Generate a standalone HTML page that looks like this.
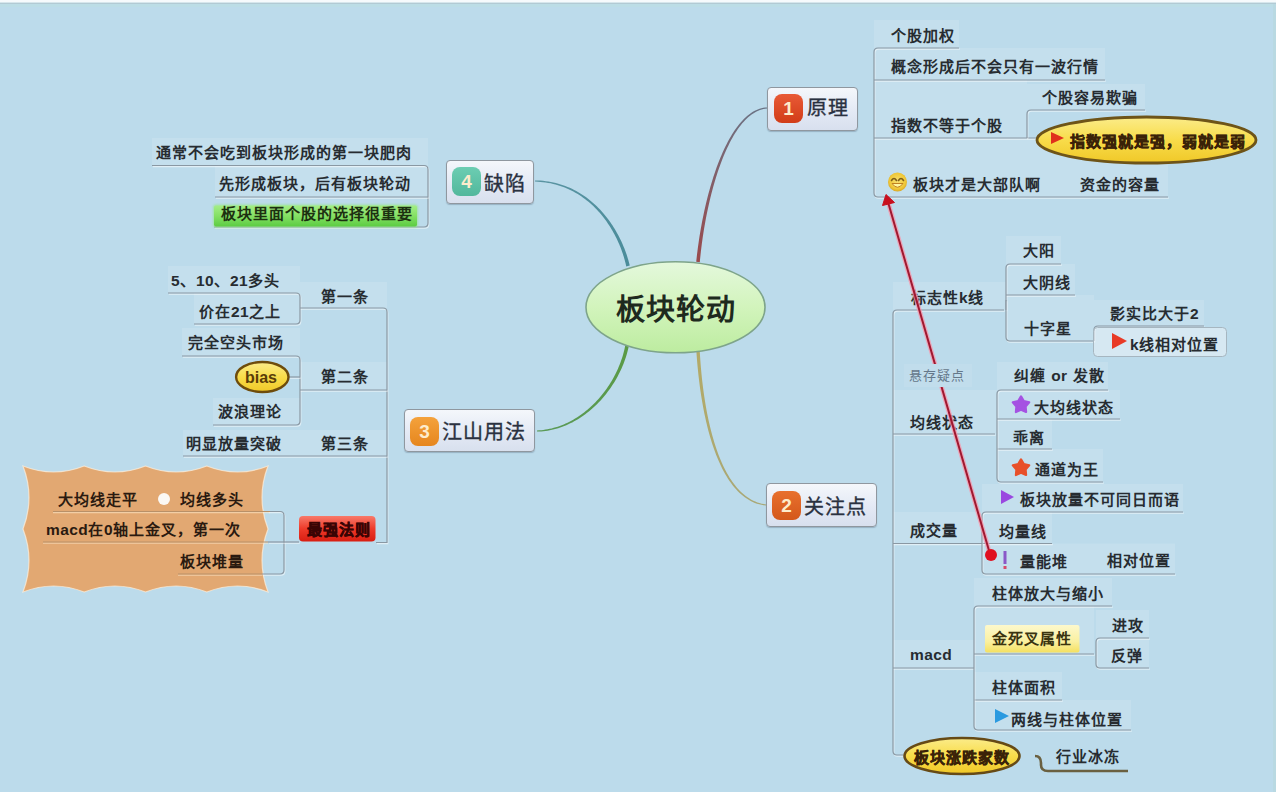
<!DOCTYPE html>
<html lang="zh-CN"><head><meta charset="utf-8"><title>板块轮动</title>
<style>
html,body{margin:0;padding:0}
body{width:1276px;height:792px;position:relative;overflow:hidden;background:#BCDBEB;font-family:"Liberation Sans",sans-serif}
.t{position:absolute;white-space:nowrap}
svg{position:absolute;left:0;top:0}
.box{position:absolute;box-sizing:border-box}
</style></head><body>

<div class="box" style="left:0;top:0;width:1276px;height:2px;background:#f6fafc"></div>
<div class="box" style="left:0;top:2px;width:1276px;height:1px;background:#d6e6ec"></div>
<div class="box" style="left:0;top:3px;width:1276px;height:1px;background:#b2cad4"></div>
<div class="box" style="left:0;top:4px;width:1276px;height:3px;background:#bcdde6"></div>
<div class="box" style="left:1273px;top:4px;width:3px;height:788px;background:#b9d9e2"></div>
<svg width="1276" height="792" viewBox="0 0 1276 792">
<defs>
<linearGradient id="gc" x1="0" y1="0" x2="0" y2="1"><stop offset="0" stop-color="#e4f8dc"/><stop offset="0.5" stop-color="#d2f4bc"/><stop offset="1" stop-color="#bdeca0"/></linearGradient>
<linearGradient id="gy" x1="0" y1="0" x2="0" y2="1"><stop offset="0" stop-color="#fbec8a"/><stop offset="0.5" stop-color="#f8dc4a"/><stop offset="1" stop-color="#f0c828"/></linearGradient>
<linearGradient id="gg" x1="0" y1="0" x2="0" y2="1"><stop offset="0" stop-color="#a4ee86"/><stop offset="0.5" stop-color="#84e064"/><stop offset="1" stop-color="#5ccc42"/></linearGradient><filter id="glow" x="-10%" y="-40%" width="120%" height="180%"><feGaussianBlur stdDeviation="1.2"/></filter>
<linearGradient id="gr" x1="0" y1="0" x2="0" y2="1"><stop offset="0" stop-color="#f87a6a"/><stop offset="0.5" stop-color="#ee3a2a"/><stop offset="1" stop-color="#d81e12"/></linearGradient>
</defs>
<path d="M23,466 Q53.6,478.0 84.2,466 Q114.9,478.0 145.5,466 Q176.1,478.0 206.8,466 Q237.4,478.0 268.0,466 Q256.0,497.5 268,529.0 Q256.0,560.5 268,592.0 Q237.4,580.0 206.8,592 Q176.1,580.0 145.5,592 Q114.9,580.0 84.2,592 Q53.6,580.0 23.0,592 Q35.0,560.5 23,529.0 Q35.0,497.5 23,466.0Z" fill="#E2A872" stroke="rgba(255,240,220,0.7)" stroke-width="1.2"/>
<rect x="874" y="20" width="85" height="28" fill="rgba(255,255,255,0.12)" /><rect x="874" y="48" width="231" height="32" fill="rgba(255,255,255,0.12)" /><rect x="874" y="80" width="153" height="58" fill="rgba(255,255,255,0.12)" /><rect x="1027" y="84" width="118" height="26" fill="rgba(255,255,255,0.12)" /><rect x="874" y="138" width="294" height="59" fill="rgba(255,255,255,0.12)" /><rect x="893" y="282" width="113" height="28" fill="rgba(255,255,255,0.12)" /><rect x="1006" y="236" width="55" height="28" fill="rgba(255,255,255,0.12)" /><rect x="1006" y="264" width="69" height="31" fill="rgba(255,255,255,0.12)" /><rect x="1006" y="295" width="88" height="46" fill="rgba(255,255,255,0.12)" /><rect x="1094" y="300" width="110" height="26" fill="rgba(255,255,255,0.12)" /><rect x="893" y="390" width="104" height="44" fill="rgba(255,255,255,0.12)" /><rect x="997" y="362" width="111" height="28" fill="rgba(255,255,255,0.12)" /><rect x="997" y="390" width="123" height="29" fill="rgba(255,255,255,0.12)" /><rect x="997" y="419" width="55" height="30" fill="rgba(255,255,255,0.12)" /><rect x="997" y="449" width="106" height="33" fill="rgba(255,255,255,0.12)" /><rect x="893" y="512" width="89" height="31.5" fill="rgba(255,255,255,0.12)" /><rect x="982" y="484" width="201" height="28" fill="rgba(255,255,255,0.12)" /><rect x="982" y="512" width="70" height="31.5" fill="rgba(255,255,255,0.12)" /><rect x="982" y="543.5" width="193" height="30.5" fill="rgba(255,255,255,0.12)" /><rect x="893" y="640" width="81" height="28" fill="rgba(255,255,255,0.12)" /><rect x="974" y="578" width="138" height="28" fill="rgba(255,255,255,0.12)" /><rect x="974" y="606" width="120" height="48" fill="rgba(255,255,255,0.12)" /><rect x="1096" y="610" width="53" height="28" fill="rgba(255,255,255,0.12)" /><rect x="1096" y="638" width="53" height="30" fill="rgba(255,255,255,0.12)" /><rect x="974" y="672" width="88" height="28" fill="rgba(255,255,255,0.12)" /><rect x="974" y="700" width="157" height="30" fill="rgba(255,255,255,0.12)" /><rect x="152" y="138" width="276" height="27.5" fill="rgba(255,255,255,0.12)" /><rect x="215" y="165.5" width="213" height="31.5" fill="rgba(255,255,255,0.12)" /><rect x="168" y="266" width="132" height="27" fill="rgba(255,255,255,0.12)" /><rect x="194" y="293" width="106" height="31" fill="rgba(255,255,255,0.12)" /><rect x="300" y="282" width="87" height="26" fill="rgba(255,255,255,0.12)" /><rect x="182" y="328" width="118" height="28" fill="rgba(255,255,255,0.12)" /><rect x="213" y="398" width="87" height="27" fill="rgba(255,255,255,0.12)" /><rect x="300" y="362" width="87" height="28" fill="rgba(255,255,255,0.12)" /><rect x="183" y="430" width="117" height="26" fill="rgba(255,255,255,0.12)" /><rect x="300" y="430" width="87" height="26" fill="rgba(255,255,255,0.12)" /><path d="M874,56 L874,52 Q874,48 878,48 L882,48 L959,48" fill="none" stroke="rgba(255,255,255,0.55)" stroke-width="1.2" transform="translate(0.8,1.2)"/><path d="M874,56 L874,52 Q874,48 878,48 L882,48 L959,48" fill="none" stroke="#8a98a3" stroke-width="1.2"/><path d="M874,56 L874,193 Q874,197 878,197 L882,197 L1168,197" fill="none" stroke="rgba(255,255,255,0.55)" stroke-width="1.2" transform="translate(0.8,1.2)"/><path d="M874,56 L874,193 Q874,197 878,197 L882,197 L1168,197" fill="none" stroke="#8a98a3" stroke-width="1.2"/><path d="M874,80 L1105,80" fill="none" stroke="rgba(255,255,255,0.55)" stroke-width="1.2" transform="translate(0.8,1.2)"/><path d="M874,80 L1105,80" fill="none" stroke="#8a98a3" stroke-width="1.2"/><path d="M874,138 L1037,138" fill="none" stroke="rgba(255,255,255,0.55)" stroke-width="1.2" transform="translate(0.8,1.2)"/><path d="M874,138 L1037,138" fill="none" stroke="#8a98a3" stroke-width="1.2"/><path d="M1027,138 L1027,114 Q1027,110 1031,110 L1035,110 L1145,110" fill="none" stroke="rgba(255,255,255,0.55)" stroke-width="1.2" transform="translate(0.8,1.2)"/><path d="M1027,138 L1027,114 Q1027,110 1031,110 L1035,110 L1145,110" fill="none" stroke="#8a98a3" stroke-width="1.2"/><path d="M893,318 L893,314 Q893,310 897,310 L901,310 L1004,310" fill="none" stroke="rgba(255,255,255,0.55)" stroke-width="1.2" transform="translate(0.8,1.2)"/><path d="M893,318 L893,314 Q893,310 897,310 L901,310 L1004,310" fill="none" stroke="#8a98a3" stroke-width="1.2"/><path d="M893,318 L893,751 Q893,755 897,755 L903,755" fill="none" stroke="rgba(255,255,255,0.55)" stroke-width="1.2" transform="translate(0.8,1.2)"/><path d="M893,318 L893,751 Q893,755 897,755 L903,755" fill="none" stroke="#8a98a3" stroke-width="1.2"/><path d="M893,434 L995,434" fill="none" stroke="rgba(255,255,255,0.55)" stroke-width="1.2" transform="translate(0.8,1.2)"/><path d="M893,434 L995,434" fill="none" stroke="#8a98a3" stroke-width="1.2"/><path d="M893,543.5 L1052,543.5" fill="none" stroke="rgba(255,255,255,0.55)" stroke-width="1.2" transform="translate(0.8,1.2)"/><path d="M893,543.5 L1052,543.5" fill="none" stroke="#8a98a3" stroke-width="1.2"/><path d="M893,668 L974,668" fill="none" stroke="rgba(255,255,255,0.55)" stroke-width="1.2" transform="translate(0.8,1.2)"/><path d="M893,668 L974,668" fill="none" stroke="#8a98a3" stroke-width="1.2"/><path d="M1006,310 L1006,268 Q1006,264 1010,264 L1014,264 L1061,264" fill="none" stroke="rgba(255,255,255,0.55)" stroke-width="1.2" transform="translate(0.8,1.2)"/><path d="M1006,310 L1006,268 Q1006,264 1010,264 L1014,264 L1061,264" fill="none" stroke="#8a98a3" stroke-width="1.2"/><path d="M1006,295 L1075,295" fill="none" stroke="rgba(255,255,255,0.55)" stroke-width="1.2" transform="translate(0.8,1.2)"/><path d="M1006,295 L1075,295" fill="none" stroke="#8a98a3" stroke-width="1.2"/><path d="M1006,300 L1006,337 Q1006,341 1010,341 L1014,341 L1094,341" fill="none" stroke="rgba(255,255,255,0.55)" stroke-width="1.2" transform="translate(0.8,1.2)"/><path d="M1006,300 L1006,337 Q1006,341 1010,341 L1014,341 L1094,341" fill="none" stroke="#8a98a3" stroke-width="1.2"/><path d="M1094,341 L1094,330 Q1094,326 1098,326 L1100,326 L1204,326" fill="none" stroke="rgba(255,255,255,0.55)" stroke-width="1.2" transform="translate(0.8,1.2)"/><path d="M1094,341 L1094,330 Q1094,326 1098,326 L1100,326 L1204,326" fill="none" stroke="#8a98a3" stroke-width="1.2"/><path d="M997,434 L997,394 Q997,390 1001,390 L1005,390 L1108,390" fill="none" stroke="rgba(255,255,255,0.55)" stroke-width="1.2" transform="translate(0.8,1.2)"/><path d="M997,434 L997,394 Q997,390 1001,390 L1005,390 L1108,390" fill="none" stroke="#8a98a3" stroke-width="1.2"/><path d="M997,419 L1120,419" fill="none" stroke="rgba(255,255,255,0.55)" stroke-width="1.2" transform="translate(0.8,1.2)"/><path d="M997,419 L1120,419" fill="none" stroke="#8a98a3" stroke-width="1.2"/><path d="M997,449 L1052,449" fill="none" stroke="rgba(255,255,255,0.55)" stroke-width="1.2" transform="translate(0.8,1.2)"/><path d="M997,449 L1052,449" fill="none" stroke="#8a98a3" stroke-width="1.2"/><path d="M997,434 L997,478 Q997,482 1001,482 L1005,482 L1103,482" fill="none" stroke="rgba(255,255,255,0.55)" stroke-width="1.2" transform="translate(0.8,1.2)"/><path d="M997,434 L997,478 Q997,482 1001,482 L1005,482 L1103,482" fill="none" stroke="#8a98a3" stroke-width="1.2"/><path d="M982,543.5 L982,516 Q982,512 986,512 L990,512 L1183,512" fill="none" stroke="rgba(255,255,255,0.55)" stroke-width="1.2" transform="translate(0.8,1.2)"/><path d="M982,543.5 L982,516 Q982,512 986,512 L990,512 L1183,512" fill="none" stroke="#8a98a3" stroke-width="1.2"/><path d="M982,543.5 L982,570 Q982,574 986,574 L990,574 L1175,574" fill="none" stroke="rgba(255,255,255,0.55)" stroke-width="1.2" transform="translate(0.8,1.2)"/><path d="M982,543.5 L982,570 Q982,574 986,574 L990,574 L1175,574" fill="none" stroke="#8a98a3" stroke-width="1.2"/><path d="M974,668 L974,610 Q974,606 978,606 L982,606 L1112,606" fill="none" stroke="rgba(255,255,255,0.55)" stroke-width="1.2" transform="translate(0.8,1.2)"/><path d="M974,668 L974,610 Q974,606 978,606 L982,606 L1112,606" fill="none" stroke="#8a98a3" stroke-width="1.2"/><path d="M974,654 L1094,654" fill="none" stroke="rgba(255,255,255,0.55)" stroke-width="1.2" transform="translate(0.8,1.2)"/><path d="M974,654 L1094,654" fill="none" stroke="#8a98a3" stroke-width="1.2"/><path d="M974,700 L1062,700" fill="none" stroke="rgba(255,255,255,0.55)" stroke-width="1.2" transform="translate(0.8,1.2)"/><path d="M974,700 L1062,700" fill="none" stroke="#8a98a3" stroke-width="1.2"/><path d="M974,668 L974,726 Q974,730 978,730 L982,730 L1131,730" fill="none" stroke="rgba(255,255,255,0.55)" stroke-width="1.2" transform="translate(0.8,1.2)"/><path d="M974,668 L974,726 Q974,730 978,730 L982,730 L1131,730" fill="none" stroke="#8a98a3" stroke-width="1.2"/><path d="M1096,654 L1096,642 Q1096,638 1100,638 L1104,638 L1149,638" fill="none" stroke="rgba(255,255,255,0.55)" stroke-width="1.2" transform="translate(0.8,1.2)"/><path d="M1096,654 L1096,642 Q1096,638 1100,638 L1104,638 L1149,638" fill="none" stroke="#8a98a3" stroke-width="1.2"/><path d="M1096,654 L1096,664 Q1096,668 1100,668 L1104,668 L1149,668" fill="none" stroke="rgba(255,255,255,0.55)" stroke-width="1.2" transform="translate(0.8,1.2)"/><path d="M1096,654 L1096,664 Q1096,668 1100,668 L1104,668 L1149,668" fill="none" stroke="#8a98a3" stroke-width="1.2"/><path d="M152,165.5 L424,165.5 Q428,165.5 428,169.5 L428,173.5 L428,223 Q428,227 424,227 L420,227 L214,227" fill="none" stroke="rgba(255,255,255,0.55)" stroke-width="1.2" transform="translate(0.8,1.2)"/><path d="M152,165.5 L424,165.5 Q428,165.5 428,169.5 L428,173.5 L428,223 Q428,227 424,227 L420,227 L214,227" fill="none" stroke="#8a98a3" stroke-width="1.2"/><path d="M215,197 L428,197" fill="none" stroke="rgba(255,255,255,0.55)" stroke-width="1.2" transform="translate(0.8,1.2)"/><path d="M215,197 L428,197" fill="none" stroke="#8a98a3" stroke-width="1.2"/><path d="M168,293 L296,293 Q300,293 300,297 L300,301 L300,320 Q300,324 296,324 L292,324 L194,324" fill="none" stroke="rgba(255,255,255,0.55)" stroke-width="1.2" transform="translate(0.8,1.2)"/><path d="M168,293 L296,293 Q300,293 300,297 L300,301 L300,320 Q300,324 296,324 L292,324 L194,324" fill="none" stroke="#8a98a3" stroke-width="1.2"/><path d="M300,308 L383,308 Q387,308 387,312 L387,316 L387,542.5 L376,542.5" fill="none" stroke="rgba(255,255,255,0.55)" stroke-width="1.2" transform="translate(0.8,1.2)"/><path d="M300,308 L383,308 Q387,308 387,312 L387,316 L387,542.5 L376,542.5" fill="none" stroke="#8a98a3" stroke-width="1.2"/><path d="M182,356 L296,356 Q300,356 300,360 L300,364 L300,421 Q300,425 296,425 L292,425 L213,425" fill="none" stroke="rgba(255,255,255,0.55)" stroke-width="1.2" transform="translate(0.8,1.2)"/><path d="M182,356 L296,356 Q300,356 300,360 L300,364 L300,421 Q300,425 296,425 L292,425 L213,425" fill="none" stroke="#8a98a3" stroke-width="1.2"/><path d="M300,390 L387,390" fill="none" stroke="rgba(255,255,255,0.55)" stroke-width="1.2" transform="translate(0.8,1.2)"/><path d="M300,390 L387,390" fill="none" stroke="#8a98a3" stroke-width="1.2"/><path d="M289,377 L300,377" fill="none" stroke="rgba(255,255,255,0.55)" stroke-width="1.2" transform="translate(0.8,1.2)"/><path d="M289,377 L300,377" fill="none" stroke="#8a98a3" stroke-width="1.2"/><path d="M183,456 L387,456" fill="none" stroke="rgba(255,255,255,0.55)" stroke-width="1.2" transform="translate(0.8,1.2)"/><path d="M183,456 L387,456" fill="none" stroke="#8a98a3" stroke-width="1.2"/><path d="M268,511.5 L280,511.5 Q284,511.5 284,515.5 L284,517.5 L284,570 Q284,574 280,574 L278,574 L262,574" fill="none" stroke="rgba(255,255,255,0.55)" stroke-width="1.2" transform="translate(0.8,1.2)"/><path d="M268,511.5 L280,511.5 Q284,511.5 284,515.5 L284,517.5 L284,570 Q284,574 280,574 L278,574 L262,574" fill="none" stroke="#8a98a3" stroke-width="1.2"/><path d="M268,542 L299,542" fill="none" stroke="rgba(255,255,255,0.55)" stroke-width="1.2" transform="translate(0.8,1.2)"/><path d="M268,542 L299,542" fill="none" stroke="#8a98a3" stroke-width="1.2"/><linearGradient id="g1" gradientUnits="userSpaceOnUse" x1="698" y1="262" x2="767" y2="108"><stop offset="0" stop-color="#9a4a4c"/><stop offset="1" stop-color="#6a7486"/></linearGradient><path d="M699.79,262.18 L700.14,258.58 L700.51,254.97 L700.91,251.36 L701.34,247.74 L701.81,244.11 L702.30,240.49 L702.82,236.86 L703.36,233.24 L703.94,229.62 L704.55,226.01 L705.18,222.41 L705.84,218.83 L706.53,215.25 L707.25,211.70 L708.00,208.17 L708.77,204.66 L709.57,201.17 L710.40,197.71 L711.25,194.28 L712.13,190.88 L713.04,187.52 L713.97,184.19 L714.93,180.91 L715.91,177.66 L716.93,174.46 L717.96,171.31 L719.03,168.20 L720.11,165.14 L721.23,162.14 L722.36,159.20 L723.53,156.31 L724.71,153.48 L725.92,150.72 L727.16,148.02 L728.42,145.39 L729.70,142.84 L731.01,140.35 L732.34,137.94 L733.69,135.61 L735.07,133.35 L736.46,131.18 L737.88,129.10 L739.33,127.10 L740.79,125.19 L742.28,123.37 L743.78,121.64 L745.31,120.02 L746.86,118.49 L748.43,117.06 L750.02,115.73 L751.63,114.51 L753.26,113.40 L754.91,112.39 L756.58,111.50 L758.27,110.72 L759.98,110.06 L761.71,109.51 L763.46,109.08 L765.24,108.78 L767.05,108.60 L766.95,107.40 L765.08,107.55 L763.22,107.83 L761.37,108.24 L759.54,108.77 L757.74,109.43 L755.95,110.21 L754.19,111.10 L752.45,112.11 L750.73,113.24 L749.04,114.47 L747.36,115.81 L745.72,117.26 L744.09,118.80 L742.49,120.45 L740.91,122.19 L739.36,124.03 L737.83,125.96 L736.32,127.98 L734.84,130.09 L733.38,132.28 L731.94,134.55 L730.53,136.90 L729.15,139.33 L727.79,141.84 L726.45,144.41 L725.14,147.06 L723.85,149.78 L722.59,152.56 L721.35,155.40 L720.14,158.30 L718.95,161.26 L717.79,164.28 L716.65,167.35 L715.54,170.48 L714.46,173.65 L713.40,176.87 L712.37,180.13 L711.36,183.43 L710.38,186.77 L709.43,190.15 L708.50,193.57 L707.60,197.01 L706.73,200.49 L705.88,203.99 L705.07,207.52 L704.28,211.07 L703.51,214.64 L702.78,218.23 L702.07,221.83 L701.40,225.45 L700.75,229.08 L700.13,232.72 L699.53,236.36 L698.97,240.01 L698.44,243.65 L697.93,247.30 L697.46,250.94 L697.01,254.58 L696.59,258.21 L696.21,261.82Z" fill="url(#g1)"/><linearGradient id="g2" gradientUnits="userSpaceOnUse" x1="698" y1="350" x2="766" y2="505"><stop offset="0" stop-color="#b4aa66"/><stop offset="1" stop-color="#a8a878"/></linearGradient><path d="M696.30,350.10 L696.53,353.61 L696.79,357.15 L697.07,360.69 L697.37,364.24 L697.70,367.80 L698.05,371.37 L698.43,374.94 L698.84,378.51 L699.27,382.07 L699.73,385.63 L700.21,389.19 L700.73,392.73 L701.27,396.26 L701.84,399.78 L702.44,403.29 L703.07,406.77 L703.73,410.23 L704.41,413.67 L705.13,417.09 L705.88,420.47 L706.66,423.83 L707.48,427.15 L708.32,430.44 L709.20,433.69 L710.11,436.90 L711.05,440.07 L712.03,443.19 L713.04,446.27 L714.09,449.29 L715.17,452.27 L716.29,455.19 L717.44,458.06 L718.63,460.86 L719.85,463.61 L721.11,466.29 L722.41,468.91 L723.75,471.46 L725.13,473.93 L726.54,476.34 L728.00,478.67 L729.49,480.92 L731.03,483.09 L732.60,485.18 L734.22,487.18 L735.88,489.10 L737.58,490.92 L739.32,492.65 L741.10,494.29 L742.93,495.83 L744.80,497.27 L746.71,498.61 L748.67,499.84 L750.68,500.96 L752.72,501.98 L754.81,502.88 L756.95,503.66 L759.13,504.33 L761.35,504.87 L763.62,505.30 L765.92,505.59 L766.08,504.41 L763.82,504.08 L761.63,503.63 L759.49,503.07 L757.39,502.39 L755.34,501.60 L753.33,500.69 L751.37,499.68 L749.45,498.56 L747.57,497.34 L745.74,496.02 L743.94,494.59 L742.19,493.07 L740.48,491.45 L738.82,489.74 L737.19,487.94 L735.60,486.04 L734.05,484.07 L732.54,482.00 L731.06,479.86 L729.63,477.63 L728.24,475.33 L726.88,472.95 L725.56,470.50 L724.27,467.97 L723.03,465.38 L721.82,462.72 L720.64,460.00 L719.50,457.22 L718.40,454.38 L717.33,451.48 L716.30,448.53 L715.30,445.52 L714.33,442.47 L713.40,439.37 L712.50,436.22 L711.63,433.03 L710.80,429.80 L710.00,426.53 L709.23,423.23 L708.49,419.90 L707.78,416.53 L707.10,413.14 L706.45,409.72 L705.84,406.27 L705.25,402.81 L704.69,399.32 L704.16,395.82 L703.66,392.31 L703.18,388.78 L702.74,385.25 L702.32,381.71 L701.92,378.16 L701.56,374.61 L701.22,371.06 L700.90,367.51 L700.61,363.97 L700.35,360.44 L700.11,356.91 L699.89,353.40 L699.70,349.90Z" fill="url(#g2)"/><linearGradient id="g3" gradientUnits="userSpaceOnUse" x1="627" y1="346" x2="537" y2="431"><stop offset="0" stop-color="#5a9a44"/><stop offset="1" stop-color="#5a9a58"/></linearGradient><path d="M625.24,345.62 L624.79,347.80 L624.30,349.96 L623.76,352.11 L623.17,354.25 L622.54,356.38 L621.86,358.50 L621.14,360.62 L620.38,362.71 L619.57,364.80 L618.73,366.87 L617.84,368.93 L616.91,370.97 L615.93,372.99 L614.92,374.99 L613.87,376.98 L612.79,378.94 L611.66,380.89 L610.50,382.81 L609.30,384.71 L608.07,386.58 L606.80,388.43 L605.50,390.25 L604.16,392.04 L602.79,393.81 L601.39,395.55 L599.95,397.26 L598.49,398.93 L596.99,400.58 L595.47,402.19 L593.91,403.77 L592.33,405.31 L590.72,406.81 L589.08,408.28 L587.42,409.71 L585.73,411.11 L584.01,412.46 L582.27,413.77 L580.51,415.04 L578.72,416.27 L576.91,417.45 L575.08,418.59 L573.23,419.68 L571.36,420.72 L569.47,421.72 L567.56,422.67 L565.62,423.57 L563.68,424.42 L561.71,425.21 L559.73,425.96 L557.73,426.65 L555.71,427.29 L553.68,427.87 L551.64,428.39 L549.58,428.86 L547.51,429.27 L545.43,429.62 L543.34,429.91 L541.23,430.13 L539.11,430.30 L536.98,430.40 L537.02,431.60 L539.18,431.54 L541.34,431.41 L543.48,431.22 L545.62,430.96 L547.75,430.65 L549.87,430.27 L551.97,429.83 L554.07,429.34 L556.15,428.78 L558.22,428.17 L560.27,427.51 L562.31,426.79 L564.33,426.01 L566.33,425.18 L568.32,424.30 L570.29,423.37 L572.24,422.38 L574.17,421.35 L576.08,420.27 L577.97,419.14 L579.84,417.97 L581.69,416.75 L583.51,415.49 L585.32,414.18 L587.09,412.83 L588.84,411.44 L590.57,410.01 L592.27,408.54 L593.94,407.03 L595.59,405.48 L597.21,403.90 L598.79,402.28 L600.35,400.63 L601.88,398.94 L603.38,397.22 L604.84,395.47 L606.28,393.69 L607.68,391.87 L609.04,390.03 L610.38,388.16 L611.67,386.27 L612.94,384.34 L614.16,382.40 L615.35,380.42 L616.50,378.43 L617.61,376.41 L618.69,374.37 L619.72,372.31 L620.71,370.24 L621.66,368.14 L622.57,366.02 L623.44,363.89 L624.26,361.75 L625.04,359.59 L625.78,357.41 L626.47,355.22 L627.11,353.02 L627.71,350.81 L628.26,348.59 L628.76,346.38Z" fill="url(#g3)"/><linearGradient id="g4" gradientUnits="userSpaceOnUse" x1="628" y1="266" x2="535" y2="181"><stop offset="0" stop-color="#4a8c9a"/><stop offset="1" stop-color="#5a94a2"/></linearGradient><path d="M629.75,265.59 L629.31,263.77 L628.83,261.92 L628.31,260.06 L627.76,258.17 L627.16,256.28 L626.53,254.37 L625.87,252.46 L625.16,250.54 L624.42,248.61 L623.64,246.68 L622.82,244.74 L621.96,242.80 L621.07,240.87 L620.14,238.93 L619.17,237.00 L618.16,235.07 L617.12,233.15 L616.03,231.24 L614.91,229.34 L613.75,227.45 L612.55,225.58 L611.31,223.71 L610.03,221.87 L608.72,220.04 L607.36,218.24 L605.97,216.45 L604.54,214.69 L603.07,212.95 L601.56,211.24 L600.01,209.56 L598.42,207.91 L596.79,206.29 L595.12,204.70 L593.41,203.15 L591.66,201.63 L589.88,200.15 L588.05,198.71 L586.18,197.31 L584.28,195.96 L582.33,194.65 L580.35,193.39 L578.32,192.17 L576.26,191.01 L574.15,189.89 L572.00,188.83 L569.82,187.83 L567.59,186.88 L565.33,185.98 L563.02,185.15 L560.68,184.38 L558.29,183.67 L555.86,183.03 L553.40,182.45 L550.89,181.94 L548.35,181.50 L545.76,181.14 L543.13,180.84 L540.47,180.62 L537.76,180.47 L535.02,180.40 L534.98,181.60 L537.70,181.71 L540.37,181.89 L542.99,182.15 L545.58,182.48 L548.12,182.89 L550.61,183.36 L553.07,183.90 L555.48,184.50 L557.86,185.17 L560.19,185.91 L562.47,186.70 L564.72,187.55 L566.93,188.46 L569.09,189.43 L571.22,190.45 L573.30,191.52 L575.34,192.65 L577.34,193.82 L579.30,195.05 L581.22,196.31 L583.10,197.63 L584.94,198.98 L586.75,200.38 L588.51,201.82 L590.23,203.29 L591.91,204.81 L593.55,206.35 L595.16,207.93 L596.72,209.55 L598.24,211.19 L599.73,212.86 L601.18,214.56 L602.59,216.28 L603.95,218.03 L605.29,219.80 L606.58,221.59 L607.83,223.40 L609.05,225.22 L610.22,227.06 L611.36,228.92 L612.46,230.79 L613.53,232.66 L614.55,234.55 L615.54,236.44 L616.49,238.34 L617.40,240.25 L618.27,242.15 L619.11,244.06 L619.91,245.97 L620.67,247.87 L621.39,249.77 L622.08,251.66 L622.73,253.55 L623.34,255.42 L623.92,257.29 L624.46,259.14 L624.96,260.98 L625.42,262.80 L625.85,264.61 L626.25,266.41Z" fill="url(#g4)"/>
<path d="M53,511.5 L270,511.5" fill="none" stroke="rgba(255,236,210,0.55)" stroke-width="1.2" transform="translate(0,1.1)"/><path d="M53,511.5 L270,511.5" fill="none" stroke="#b89068" stroke-width="1.1"/><path d="M43,542 L268,542" fill="none" stroke="rgba(255,236,210,0.55)" stroke-width="1.2" transform="translate(0,1.1)"/><path d="M43,542 L268,542" fill="none" stroke="#b89068" stroke-width="1.1"/><path d="M178,574 L262,574" fill="none" stroke="rgba(255,236,210,0.55)" stroke-width="1.2" transform="translate(0,1.1)"/><path d="M178,574 L262,574" fill="none" stroke="#b89068" stroke-width="1.1"/>
<ellipse cx="675.5" cy="307.3" rx="89.5" ry="45.5" fill="url(#gc)" stroke="#7ea48a" stroke-width="1.6"/>
<ellipse cx="1146.5" cy="140" rx="109.5" ry="23" fill="url(#gy)" stroke="#6e5418" stroke-width="2.8"/>
<ellipse cx="962" cy="756" rx="57.5" ry="18" fill="url(#gy)" stroke="#664a16" stroke-width="2.6"/>
<ellipse cx="262.3" cy="377" rx="26.2" ry="15" fill="url(#gy)" stroke="#6e4c0c" stroke-width="2.4"/>
<rect x="213" y="204.5" width="205" height="23" rx="3" fill="#90e878" opacity="0.6" filter="url(#glow)"/><rect x="214" y="205.5" width="203" height="21" rx="2" fill="url(#gg)"/>
<linearGradient id="gk" x1="0" y1="0" x2="0" y2="1"><stop offset="0" stop-color="#fdf8cc"/><stop offset="0.6" stop-color="#faf0a0"/><stop offset="1" stop-color="#f4e060"/></linearGradient><rect x="985" y="625" width="94.5" height="27.5" rx="2" fill="url(#gk)"/>
<rect x="299" y="516" width="76.5" height="25.5" rx="4" fill="url(#gr)"/>
<rect x="1093.5" y="327.5" width="133" height="29" rx="4" fill="rgba(235,242,248,0.55)" stroke="#a6b6c0" stroke-width="1"/>
<path d="M1035,756 Q1041,756 1041,763 L1041,765 Q1041,771 1048,771 L1128,771" fill="none" stroke="#6a6040" stroke-width="2.6"/>
</svg>
<div class="box" style="left:767px;top:87px;width:91px;height:44px;border:1px solid #8f979f;border-radius:4px;background:linear-gradient(#f4f7fb,#e2e8f4 60%,#d8e0ee);box-shadow:0 1px 1px rgba(80,100,120,0.35)"></div>
<div class="box" style="left:774px;top:94px;width:29px;height:29px;border-radius:8px;background:linear-gradient(#e85a36,#d23c18);color:#fdeccc;font-weight:700;font-size:19px;line-height:29px;text-align:center">1</div>
<div class="box" style="left:766px;top:483px;width:111px;height:44px;border:1px solid #8f979f;border-radius:4px;background:linear-gradient(#f4f7fb,#e2e8f4 60%,#d8e0ee);box-shadow:0 1px 1px rgba(80,100,120,0.35)"></div>
<div class="box" style="left:772px;top:491px;width:29px;height:29px;border-radius:8px;background:linear-gradient(#e8702e,#d4581a);color:#fdeccc;font-weight:700;font-size:19px;line-height:29px;text-align:center">2</div>
<div class="box" style="left:404px;top:409px;width:131px;height:43px;border:1px solid #8f979f;border-radius:4px;background:linear-gradient(#f4f7fb,#e2e8f4 60%,#d8e0ee);box-shadow:0 1px 1px rgba(80,100,120,0.35)"></div>
<div class="box" style="left:410px;top:417px;width:29px;height:29px;border-radius:8px;background:linear-gradient(#f4a23c,#e6861e);color:#fdeccc;font-weight:700;font-size:19px;line-height:29px;text-align:center">3</div>
<div class="box" style="left:446px;top:160px;width:88px;height:44px;border:1px solid #8f979f;border-radius:4px;background:linear-gradient(#f4f7fb,#e2e8f4 60%,#d8e0ee);box-shadow:0 1px 1px rgba(80,100,120,0.35)"></div>
<div class="box" style="left:452px;top:167px;width:29px;height:29px;border-radius:8px;background:linear-gradient(#6ccdb2,#52b89c);color:#fdeccc;font-weight:700;font-size:19px;line-height:29px;text-align:center">4</div>
<div class="t" style="left:891px;top:28px;font-size:15px;line-height:15px;font-weight:700;color:#272c31;letter-spacing:1px">个股加权</div>
<div class="t" style="left:891px;top:58.5px;font-size:15px;line-height:15px;font-weight:700;color:#272c31;letter-spacing:1px">概念形成后不会只有一波行情</div>
<div class="t" style="left:1042px;top:90px;font-size:15px;line-height:15px;font-weight:700;color:#272c31;letter-spacing:1px">个股容易欺骗</div>
<div class="t" style="left:891px;top:118px;font-size:15px;line-height:15px;font-weight:700;color:#272c31;letter-spacing:1px">指数不等于个股</div>
<div class="t" style="left:1070px;top:134px;font-size:15px;line-height:15px;font-weight:700;color:#3a2208;letter-spacing:1px;-webkit-text-stroke:0.5px #3a2208">指数强就是强，弱就是弱</div>
<div class="t" style="left:913px;top:177px;font-size:15px;line-height:15px;font-weight:700;color:#272c31;letter-spacing:1px">板块才是大部队啊</div>
<div class="t" style="left:1080px;top:177px;font-size:15px;line-height:15px;font-weight:700;color:#272c31;letter-spacing:1px">资金的容量</div>
<div class="t" style="left:911px;top:290px;font-size:15px;line-height:15px;font-weight:700;color:#272c31;letter-spacing:1px">标志性<span style="font-size:15.5px;font-weight:700;letter-spacing:0.4px">k</span>线</div>
<div class="t" style="left:1023px;top:242.5px;font-size:15px;line-height:15px;font-weight:700;color:#272c31;letter-spacing:1px">大阳</div>
<div class="t" style="left:1023px;top:275px;font-size:15px;line-height:15px;font-weight:700;color:#272c31;letter-spacing:1px">大阴线</div>
<div class="t" style="left:1024px;top:321px;font-size:15px;line-height:15px;font-weight:700;color:#272c31;letter-spacing:1px">十字星</div>
<div class="t" style="left:1110px;top:305.5px;font-size:15px;line-height:15px;font-weight:700;color:#272c31;letter-spacing:1px">影实比大于<span style="font-size:15.5px;font-weight:700;letter-spacing:0.4px">2</span></div>
<div class="t" style="left:1130px;top:337px;font-size:15px;line-height:15px;font-weight:700;color:#272c31;letter-spacing:1px"><span style="font-size:15.5px;font-weight:700;letter-spacing:0.4px">k</span>线相对位置</div>
<div class="t" style="left:1014px;top:368px;font-size:15px;line-height:15px;font-weight:700;color:#272c31;letter-spacing:1px">纠缠 <span style="font-size:15.5px;font-weight:700;letter-spacing:0.4px">or</span> 发散</div>
<div class="t" style="left:910px;top:415px;font-size:15px;line-height:15px;font-weight:700;color:#272c31;letter-spacing:1px">均线状态</div>
<div class="t" style="left:1034px;top:400px;font-size:15px;line-height:15px;font-weight:700;color:#272c31;letter-spacing:1px">大均线状态</div>
<div class="t" style="left:1013px;top:430px;font-size:15px;line-height:15px;font-weight:700;color:#272c31;letter-spacing:1px">乖离</div>
<div class="t" style="left:1035px;top:462px;font-size:15px;line-height:15px;font-weight:700;color:#272c31;letter-spacing:1px">通道为王</div>
<div class="t" style="left:1020px;top:492px;font-size:15px;line-height:15px;font-weight:700;color:#272c31;letter-spacing:1px">板块放量不可同日而语</div>
<div class="t" style="left:910px;top:523px;font-size:15px;line-height:15px;font-weight:700;color:#272c31;letter-spacing:1px">成交量</div>
<div class="t" style="left:999px;top:524px;font-size:15px;line-height:15px;font-weight:700;color:#272c31;letter-spacing:1px">均量线</div>
<div class="t" style="left:1020px;top:553.5px;font-size:15px;line-height:15px;font-weight:700;color:#272c31;letter-spacing:1px">量能堆</div>
<div class="t" style="left:1107px;top:553px;font-size:15px;line-height:15px;font-weight:700;color:#272c31;letter-spacing:1px">相对位置</div>
<div class="t" style="left:992px;top:586px;font-size:15px;line-height:15px;font-weight:700;color:#272c31;letter-spacing:1px">柱体放大与缩小</div>
<div class="t" style="left:992px;top:631px;font-size:15px;line-height:15px;font-weight:700;color:#3a3410;letter-spacing:1px">金死叉属性</div>
<div class="t" style="left:1112px;top:618px;font-size:15px;line-height:15px;font-weight:700;color:#272c31;letter-spacing:1px">进攻</div>
<div class="t" style="left:1111px;top:648px;font-size:15px;line-height:15px;font-weight:700;color:#272c31;letter-spacing:1px">反弹</div>
<div class="t" style="left:910px;top:647px;font-size:15px;line-height:15px;font-weight:700;color:#272c31;letter-spacing:1px"><span style="font-size:15.5px;font-weight:700;letter-spacing:0.4px">macd</span></div>
<div class="t" style="left:992px;top:680px;font-size:15px;line-height:15px;font-weight:700;color:#272c31;letter-spacing:1px">柱体面积</div>
<div class="t" style="left:1011px;top:712px;font-size:15px;line-height:15px;font-weight:700;color:#272c31;letter-spacing:1px">两线与柱体位置</div>
<div class="t" style="left:914px;top:750px;font-size:15px;line-height:15px;font-weight:700;color:#3a2208;letter-spacing:1px;-webkit-text-stroke:0.5px #3a2208">板块涨跌家数</div>
<div class="t" style="left:1056px;top:749px;font-size:15px;line-height:15px;font-weight:700;color:#272c31;letter-spacing:1px">行业冰冻</div>
<div class="t" style="left:156px;top:144.5px;font-size:15px;line-height:15px;font-weight:700;color:#272c31;letter-spacing:1px">通常不会吃到板块形成的第一块肥肉</div>
<div class="t" style="left:219px;top:176px;font-size:15px;line-height:15px;font-weight:700;color:#272c31;letter-spacing:1px">先形成板块，后有板块轮动</div>
<div class="t" style="left:221px;top:205.5px;font-size:15px;line-height:15px;font-weight:700;color:#1c3010;letter-spacing:1px">板块里面个股的选择很重要</div>
<div class="t" style="left:171px;top:273px;font-size:15px;line-height:15px;font-weight:700;color:#272c31;letter-spacing:1px"><span style="font-size:15.5px;font-weight:700;letter-spacing:0.4px">5</span>、<span style="font-size:15.5px;font-weight:700;letter-spacing:0.4px">10</span>、<span style="font-size:15.5px;font-weight:700;letter-spacing:0.4px">21</span>多头</div>
<div class="t" style="left:199px;top:304px;font-size:15px;line-height:15px;font-weight:700;color:#272c31;letter-spacing:1px">价在<span style="font-size:15.5px;font-weight:700;letter-spacing:0.4px">21</span>之上</div>
<div class="t" style="left:321px;top:289px;font-size:15px;line-height:15px;font-weight:700;color:#272c31;letter-spacing:1px">第一条</div>
<div class="t" style="left:188px;top:335px;font-size:15px;line-height:15px;font-weight:700;color:#272c31;letter-spacing:1px">完全空头市场</div>
<div class="t" style="left:245px;top:369.5px;font-size:16px;line-height:16px;font-weight:700;color:#5a3c08;">bias</div>
<div class="t" style="left:321px;top:369px;font-size:15px;line-height:15px;font-weight:700;color:#272c31;letter-spacing:1px">第二条</div>
<div class="t" style="left:218px;top:404px;font-size:15px;line-height:15px;font-weight:700;color:#272c31;letter-spacing:1px">波浪理论</div>
<div class="t" style="left:186px;top:436px;font-size:15px;line-height:15px;font-weight:700;color:#272c31;letter-spacing:1px">明显放量突破</div>
<div class="t" style="left:321px;top:436px;font-size:15px;line-height:15px;font-weight:700;color:#272c31;letter-spacing:1px">第三条</div>
<div class="t" style="left:58px;top:491.5px;font-size:15px;line-height:15px;font-weight:700;color:#2a1a10;letter-spacing:1px">大均线走平</div>
<div class="t" style="left:180px;top:492px;font-size:15px;line-height:15px;font-weight:700;color:#2a1a10;letter-spacing:1px">均线多头</div>
<div class="t" style="left:46px;top:521.5px;font-size:15px;line-height:15px;font-weight:700;color:#2a1a10;letter-spacing:1px"><span style="font-size:15.5px;font-weight:700;letter-spacing:0.4px">macd</span>在<span style="font-size:15.5px;font-weight:700;letter-spacing:0.4px">0</span>轴上金叉，第一次</div>
<div class="t" style="left:180px;top:554px;font-size:15px;line-height:15px;font-weight:700;color:#2a1a10;letter-spacing:1px">板块堆量</div>
<div class="t" style="left:307px;top:522px;font-size:15px;line-height:15px;font-weight:700;color:#3a0404;letter-spacing:1px;-webkit-text-stroke:0.5px #3a0404">最强法则</div>
<div class="t" style="left:807px;top:98px;font-size:20px;line-height:20px;font-weight:400;color:#2a3140;letter-spacing:1px;-webkit-text-stroke:0.35px #2a3140">原理</div>
<div class="t" style="left:804px;top:497px;font-size:20px;line-height:20px;font-weight:400;color:#2a3140;letter-spacing:1px;-webkit-text-stroke:0.35px #2a3140">关注点</div>
<div class="t" style="left:442px;top:422px;font-size:20px;line-height:20px;font-weight:400;color:#2a3140;letter-spacing:1px;-webkit-text-stroke:0.35px #2a3140">江山用法</div>
<div class="t" style="left:484px;top:174px;font-size:20px;line-height:20px;font-weight:400;color:#2a3140;letter-spacing:1px;-webkit-text-stroke:0.35px #2a3140">缺陷</div>
<div class="t" style="left:616px;top:296px;font-size:29px;line-height:29px;font-weight:700;color:#1e2a1e;letter-spacing:1px">板块轮动</div>
<svg width="1276" height="792" viewBox="0 0 1276 792"><radialGradient id="sm" cx="0.5" cy="0.45" r="0.55"><stop offset="0" stop-color="#f8e070"/><stop offset="0.75" stop-color="#f0c838"/><stop offset="1" stop-color="#d8a828"/></radialGradient><circle cx="897.5" cy="182" r="9.5" fill="url(#sm)"/><path d="M891.5,180.5 Q894,176.5 896.5,180.5 M898.5,180.5 Q901,176.5 903.5,180.5" stroke="#806018" stroke-width="1.6" fill="none" stroke-linecap="round"/><path d="M892,183.5 Q897.5,191 903,183.5 Z" fill="#fff6a0" stroke="#c08020" stroke-width="1"/><path d="M1051,132 L1064,138 L1051,144 Z" fill="#e0301c"/><path d="M1112,333 L1127,341 L1112,349 Z" fill="#e83a26"/><polygon points="1021.0,396.4 1023.8,401.1 1029.2,402.3 1025.6,406.5 1026.1,412.0 1021.0,409.8 1015.9,412.0 1016.4,406.5 1012.8,402.3 1018.2,401.1" fill="#a552e2" stroke="#a552e2" stroke-width="2.2" stroke-linejoin="round"/><polygon points="1021.0,459.4 1023.8,464.1 1029.2,465.3 1025.6,469.5 1026.1,475.0 1021.0,472.8 1015.9,475.0 1016.4,469.5 1012.8,465.3 1018.2,464.1" fill="#e8502a" stroke="#e8502a" stroke-width="2.2" stroke-linejoin="round"/><path d="M1001,490 L1014,497 L1001,504 Z" fill="#9a48e0"/><path d="M995,709 L1009,716 L995,723 Z" fill="#2a9ae0"/><circle cx="164" cy="499" r="6" fill="#fbf8f4"/><rect x="1003.5" y="551" width="3" height="13" fill="#8a58c8"/><rect x="1003.5" y="566" width="3" height="3" fill="#d84a6a"/><path d="M990,554 L888,202" stroke="rgba(250,150,170,0.75)" stroke-width="4.5" fill="none"/><path d="M990,554 L888,202" stroke="#a01830" stroke-width="2" fill="none"/><path d="M886,194.5 L882.5,205.5 L894.5,202.5 Z" fill="#c8101e" stroke="#c8101e" stroke-width="1" stroke-linejoin="round"/><circle cx="991" cy="555" r="6" fill="#e01020"/></svg>
<div class="box" style="left:904px;top:364px;width:68px;height:23px;background:#c1ddec"></div>
<div class="t" style="left:909px;top:369px;font-size:13px;line-height:13px;font-weight:400;color:#65788a;letter-spacing:1px">悬存疑点</div>
</body></html>
